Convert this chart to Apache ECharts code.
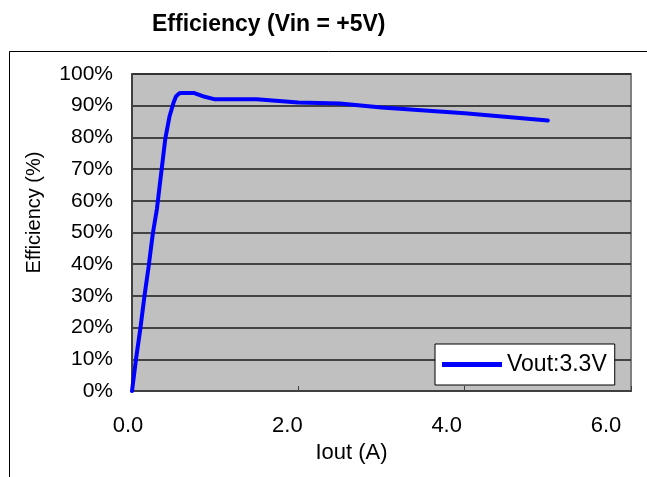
<!DOCTYPE html>
<html>
<head>
    <meta charset="utf-8">
    <title>Efficiency (Vin = +5V)</title>
    <style>
        html, body { margin: 0; padding: 0; background: #fff; }
        #chart_main { width: 647px; height: 477px; }
    </style>
</head>
<body>
    <div id="chart_main"></div>
    <script src="https://cdn.jsdelivr.net/npm/echarts@6/dist/echarts.min.js"></script>
    <script>
        // 数据：输出电流 (A) 与效率 (%)
        var iout = [0, 0.05, 0.1, 0.15, 0.2, 0.25, 0.3, 0.35, 0.4, 0.45, 0.5, 0.53, 0.57, 0.6, 0.75, 0.85, 1.0, 1.5, 2.0, 2.5, 3.0, 4.0, 5.0];
        var efficiency = [0, 10.4, 19.6, 30, 39.3, 49.6, 57.5, 68.5, 79.5, 86.5, 91, 93, 93.9, 94, 94, 93, 92, 92, 91, 90.7, 89.4, 87.6, 85.3];
        var xTicks = [0, 2, 4, 6];
        var seriesName = 'Vout:3.3V';

        var points = [];
        for (var i = 0; i < iout.length; i++) {
            points.push([iout[i], efficiency[i]]);
        }

        var font = 'Liberation Sans, Arial, sans-serif';
        var myChart = echarts.init(document.getElementById('chart_main'));

        var option = {
            animation: false,
            backgroundColor: '#fff',
            title: {
                text: 'Efficiency (Vin = +5V)',
                left: 152,
                top: 13,
                padding: 0,
                textStyle: { fontFamily: font, fontSize: 23, fontWeight: 'bold', color: '#000' }
            },
            graphic: [{
                type: 'rect',
                silent: true,
                shape: { x: 9.5, y: 51.5, width: 700, height: 500 },
                style: { fill: 'none', stroke: '#000', lineWidth: 1 }
            }],
            legend: {
                data: [seriesName],
                left: 435,
                top: 344,
                padding: [9, 8, 9, 7],
                backgroundColor: '#fff',
                borderColor: '#000',
                borderWidth: 1,
                icon: 'rect',
                itemWidth: 60,
                itemHeight: 5,
                itemGap: 5,
                textStyle: { fontFamily: font, fontSize: 23, color: '#000' }
            },
            grid: [
                { left: 132, right: 16, top: 74, bottom: 86, show: true, backgroundColor: '#c0c0c0', borderColor: '#808080', borderWidth: 2 },
                { left: 128, right: 41, top: 74, bottom: 86 }
            ],
            xAxis: [{
                type: 'value',
                gridIndex: 0,
                min: 0,
                max: 6,
                interval: 2,
                axisLine: { show: true, onZero: false, lineStyle: { color: '#404040', width: 2 } },
                axisTick: { show: true, inside: true, length: 5, lineStyle: { color: '#404040', width: 1 } },
                axisLabel: { show: false },
                splitLine: { show: false }
            }, {
                // 刻度文字单独放在第二个坐标轴上
                type: 'value',
                gridIndex: 1,
                min: 0,
                max: 6,
                interval: 2,
                name: 'Iout (A)',
                nameLocation: 'middle',
                nameGap: 47,
                nameTextStyle: { fontFamily: font, fontSize: 22, color: '#000', padding: [0, 31, 0, 0] },
                axisLine: { show: false },
                axisTick: { show: false },
                splitLine: { show: false },
                axisLabel: {
                    margin: 24,
                    fontFamily: font,
                    fontSize: 22,
                    color: '#000',
                    formatter: function (v) { return v.toFixed(1); }
                }
            }],
            yAxis: [{
                type: 'value',
                gridIndex: 0,
                min: 0,
                max: 100,
                interval: 10,
                name: 'Efficiency (%)',
                nameLocation: 'middle',
                nameGap: 88,
                nameTextStyle: { fontFamily: font, fontSize: 20, color: '#000', padding: [0, 0, 0, 40] },
                axisLine: { show: true, lineStyle: { color: '#404040', width: 2 } },
                axisTick: { show: false },
                axisLabel: {
                    margin: 19,
                    fontFamily: font,
                    fontSize: 21,
                    color: '#000',
                    formatter: '{value}%'
                },
                splitLine: { show: true, lineStyle: { color: '#1a1a1a', width: 1.5 } }
            }, {
                type: 'value',
                gridIndex: 1,
                min: 0,
                max: 100,
                show: false
            }],
            series: [{
                name: seriesName,
                type: 'line',
                xAxisIndex: 0,
                yAxisIndex: 0,
                data: points,
                symbol: 'none',
                smooth: false,
                color: '#0000ff',
                lineStyle: { color: '#0000ff', width: 4, cap: 'round', join: 'round' }
            }]
        };

        myChart.setOption(option);
    </script>
</body>
</html>
